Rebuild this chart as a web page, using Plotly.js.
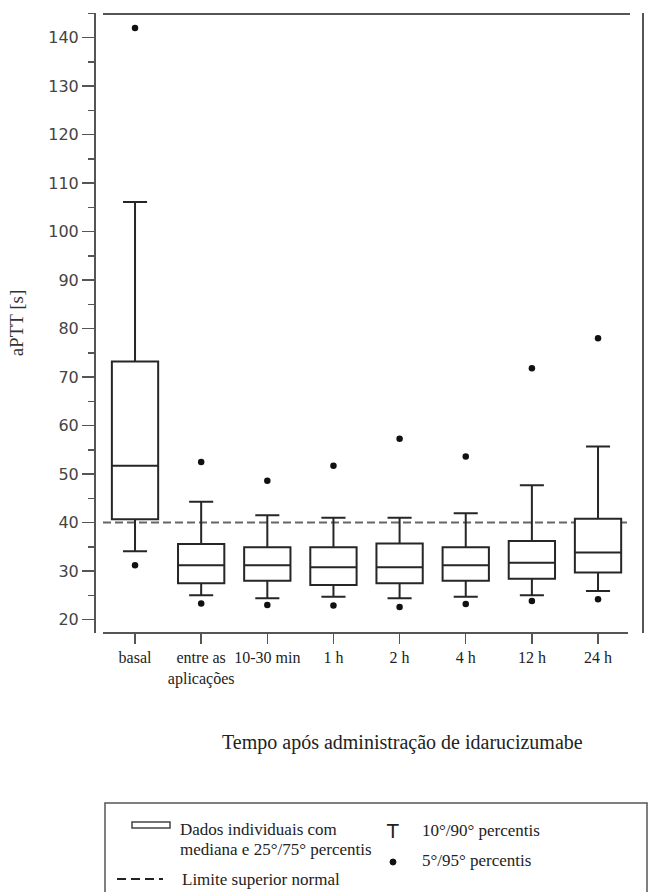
<!DOCTYPE html>
<html>
<head>
<meta charset="utf-8">
<script src="https://cdn.plot.ly/plotly-3.0.1.min.js"></script>
<style>html,body{margin:0;padding:0;background:#fff;}#chart{width:649px;height:892px;}</style>
</head>
<body>
<div id="chart"></div>
<script>
// ---- data ----
const categories = ["basal", "entre as<br>aplicações", "10-30 min", "1 h", "2 h", "4 h", "12 h", "24 h"];
const p5      = [31.2, 23.3, 23.0, 22.9, 22.6, 23.2, 23.8, 24.2];
const p10     = [34.1, 25.0, 24.4, 24.7, 24.4, 24.7, 25.0, 25.9];
const q1      = [40.7, 27.5, 28.0, 27.1, 27.5, 28.0, 28.4, 29.7];
const median  = [51.7, 31.2, 31.2, 30.8, 30.8, 31.2, 31.7, 33.8];
const q3      = [73.2, 35.6, 34.9, 34.9, 35.7, 34.9, 36.2, 40.8];
const p90     = [106.1, 44.3, 41.5, 41.0, 41.0, 41.9, 47.7, 55.7];
const p95     = [142.0, 52.5, 48.6, 51.7, 57.3, 53.6, 71.8, 78.0];
const upperNormalLimit = 40;
const yTicks = [20, 30, 40, 50, 60, 70, 80, 90, 100, 110, 120, 130, 140];

// ---- layout helpers (pixel -> paper) ----
const W = 649, H = 892, L = 96, R = 6, T = 13, B = 259;
const PW = W - L - R, PH = H - T - B;
const px = x => (x - L) / PW;
const py = y => (H - B - y) / PH;

const idx = categories.map((_, i) => i);

const boxTrace = {
  type: "box",
  x: idx,
  q1: q1, median: median, q3: q3,
  lowerfence: p10, upperfence: p90,
  width: 0.70,
  whiskerwidth: 0.52,
  boxpoints: false,
  fillcolor: "#ffffff",
  line: {color: "#262626", width: 2},
  hoverinfo: "skip",
  showlegend: false
};

const dotX = idx.concat(idx);
const dotY = p5.concat(p95);
const dotTrace = {
  type: "scatter", mode: "markers",
  x: dotX, y: dotY,
  marker: {color: "#111", size: 6.5},
  hoverinfo: "skip", showlegend: false
};

const lineCol = "#555";
const shapes = [
  {type: "line", xref: "paper", yref: "y", x0: px(103), x1: px(630), y0: upperNormalLimit, y1: upperNormalLimit,
   line: {color: "#666", width: 2, dash: "8px,4px"}, layer: "below"},
  {type: "line", xref: "paper", yref: "paper", x0: px(103), x1: px(628), y0: py(633), y1: py(633), line: {color: lineCol, width: 2}},
  {type: "line", xref: "paper", yref: "paper", x0: px(103), x1: px(630), y0: py(14), y1: py(14), line: {color: lineCol, width: 2}},
  {type: "line", xref: "paper", yref: "paper", x0: px(643), x1: px(643), y0: py(13), y1: py(633), line: {color: lineCol, width: 2}},
  {type: "rect", xref: "paper", yref: "paper", x0: px(105), x1: px(647), y0: py(803), y1: py(905), line: {color: "#555", width: 1.5}},
  {type: "rect", xref: "paper", yref: "paper", x0: px(132), x1: px(170), y0: py(822), y1: py(828), line: {color: "#444", width: 1.5}, fillcolor: "#fff"},
  {type: "line", xref: "paper", yref: "paper", x0: px(117), x1: px(163), y0: py(879), y1: py(879), line: {color: "#222", width: 2, dash: "9px,5px"}},
  {type: "circle", xref: "paper", yref: "paper", x0: px(390), x1: px(396), y0: py(859), y1: py(865), fillcolor: "#111", line: {color: "#111", width: 1}}
];

const serif = "Liberation Serif, Times New Roman, serif";
const ann = (x, y, text, opts) => Object.assign({
  xref: "paper", yref: "paper", x: px(x), y: py(y), text: text, showarrow: false,
  xanchor: "left", yanchor: "middle", font: {family: serif, size: 17, color: "#222"}
}, opts || {});

const annotations = [
  ann(402, 742, "Tempo após administração de idarucizumabe", {xanchor: "center", font: {family: serif, size: 20, color: "#222"}}),
  ann(178, 829, "Dados individuais com"),
  ann(178, 849, "mediana e 25°/75° percentis"),
  ann(180, 879, "Limite superior normal"),
  ann(392, 831, "T", {xanchor: "center", font: {family: "DejaVu Sans, sans-serif", size: 19, color: "#222"}}),
  ann(420, 830, "10°/90° percentis"),
  ann(420, 860, "5°/95° percentis")
];

const layout = {
  width: W, height: H,
  margin: {l: L, r: R, t: T, b: B, pad: 0},
  paper_bgcolor: "#fff", plot_bgcolor: "#fff",
  showlegend: false,
  xaxis: {
    range: [-0.59, 7.68],
    tickvals: idx, ticktext: categories,
    tickangle: 0,
    ticks: "outside", ticklen: 10, tickwidth: 1.5, tickcolor: lineCol,
    showline: false, showgrid: false, zeroline: false,
    tickfont: {family: serif, size: 16, color: "#222"},
    fixedrange: true
  },
  yaxis: {
    range: [17.22, 145.09],
    tickvals: yTicks,
    ticks: "outside", ticklen: 12, tickwidth: 1.5, tickcolor: lineCol,
    minor: {dtick: 5, tick0: 0, ticks: "outside", ticklen: 6, tickwidth: 1.5, tickcolor: lineCol, showgrid: false},
    showline: true, linecolor: lineCol, linewidth: 2,
    showgrid: false, zeroline: false,
    tickfont: {family: "DejaVu Sans, sans-serif", size: 16, color: "#444"},
    title: {text: "aPTT [s]", font: {family: serif, size: 19, color: "#333"}, standoff: 20},
    automargin: false,
    fixedrange: true
  },
  shapes: shapes,
  annotations: annotations
};

Plotly.newPlot("chart", [boxTrace, dotTrace], layout, {displayModeBar: false, staticPlot: true});
</script>
</body>
</html>
